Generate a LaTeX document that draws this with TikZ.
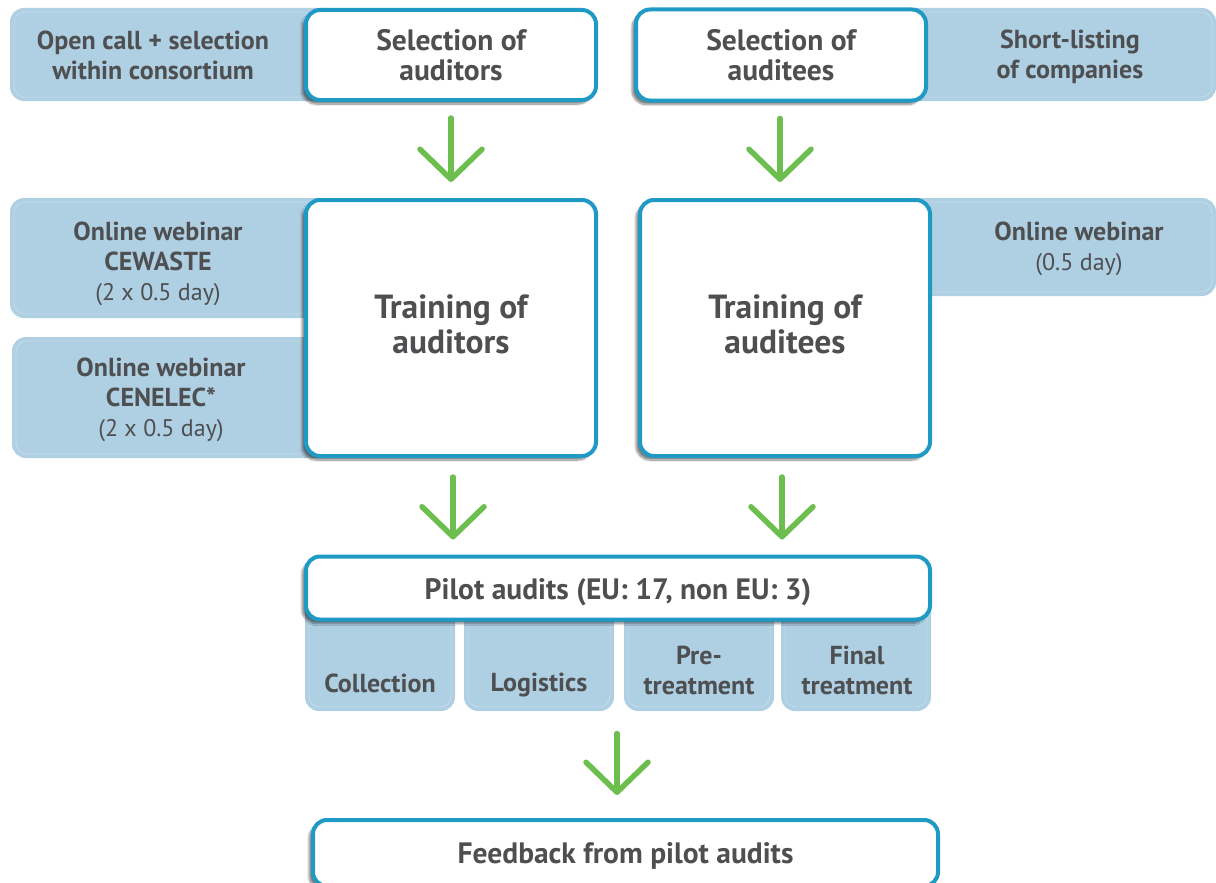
\documentclass[tikz,border=0pt]{standalone}
\usepackage{fontspec}
\setmainfont{PT Sans}
\usetikzlibrary{arrows.meta,shadows.blur}
\definecolor{lb}{HTML}{AFCFE3}
\definecolor{lbline}{HTML}{C3DCEB}
\definecolor{bd}{HTML}{1E9AC4}
\definecolor{tc}{HTML}{4E4F51}
\definecolor{gr}{HTML}{6CBE4F}
\tikzset{
  bluefill/.style={fill=lb, rounded corners=14pt},
  blueline/.style={draw=lbline, line width=0.8pt, rounded corners=11pt},
  whitebox/.style={draw=bd, line width=4pt, fill=white, rounded corners=14pt,
    blur shadow={shadow xshift=-4pt, shadow yshift=-4pt, shadow blur steps=10, shadow opacity=50},
    text=tc, align=center, inner sep=0pt},
  bluetext/.style={text=tc, align=center, inner sep=0pt},
  flow/.style={draw=gr, line width=5.5pt, line cap=round,
    -{Straight Barb[length=30pt, width=62pt, round]}},
  bigtxt/.style={font=\fontsize{33.5}{35}\selectfont\bfseries},
  midtxt/.style={font=\fontsize{29.5}{30}\selectfont\bfseries},
  smtxt/.style={font=\fontsize{26}{30}\selectfont\bfseries},
  boxlabel/.style={text=tc, align=center, inner sep=0pt},
}
\newcommand\regtxt[1]{{\fontsize{24}{30}\selectfont\mdseries #1}}
\newcommand\bluebg[4]{%
  \path[bluefill] (#1,#2) rectangle (#3,#4);
  \draw[blueline] (#1+4,#2+4) rectangle (#3-4,#4-4);}
\begin{document}
\begin{tikzpicture}[x=1pt,y=-1pt]
\useasboundingbox (0,0) rectangle (1216,883);
% blue backgrounds
\bluebg{10}{8}{340}{101}
\bluebg{900}{8}{1216}{101}
\bluebg{10}{198}{340}{318}
\bluebg{12}{337}{340}{458}
\bluebg{910}{198}{1216}{296}
\bluebg{305}{590}{455}{711}
\bluebg{464}{590}{614}{711}
\bluebg{624}{590}{774}{711}
\bluebg{781}{590}{931}{711}
% blue texts
\node[bluetext, smtxt] (t1) at (153,55) {Open call + selection\\within consortium};
\node[bluetext, smtxt] (t2) at (1070,57) {Short-listing\\of companies};
\node[bluetext, smtxt] (t3) at (158,264) {Online webinar\\CEWASTE\\\regtxt{(2 x 0.5 day)}};
\node[bluetext, smtxt] (t4) at (161,400) {Online webinar\\CENELEC*\\\regtxt{(2 x 0.5 day)}};
\node[bluetext, smtxt] (t5) at (1079,249) {Online webinar\\\regtxt{(0.5 day)}};
\node[bluetext, smtxt] (c1) at (380,683) {Collection};
\node[bluetext, smtxt] (c2) at (539,685) {Logistics};
\node[bluetext, smtxt] (c3) at (699,670) {Pre-\\treatment};
\node[bluetext, smtxt] (c4) at (857,670) {Final\\treatment};
% white boxes
\node[whitebox, midtxt, minimum width=290pt, minimum height=90pt] (selA) at (451,55) {Selection of\\auditors};
\node[whitebox, midtxt, minimum width=290pt, minimum height=91pt] (selB) at (781,55) {Selection of\\auditees};
\node[whitebox, minimum width=290pt, minimum height=256pt,
  label={[boxlabel, bigtxt, yshift=3.5pt]center:Training of\\auditors}] (trA) at (451,328) {};
\node[whitebox, minimum width=290pt, minimum height=256pt,
  label={[boxlabel, bigtxt, yshift=3.5pt]center:Training of\\auditees}] (trB) at (785,328) {};
\node[whitebox, minimum width=624pt, minimum height=63pt,
  label={[boxlabel, midtxt, yshift=-4pt]center:Pilot audits (EU: 17, non EU: 3)}] (pilot) at (618,588) {};
\node[whitebox, minimum width=625pt, minimum height=66pt,
  label={[boxlabel, midtxt, yshift=-3pt]center:Feedback from pilot audits}] (fb) at (625.5,853) {};
% arrows
\draw[flow, shorten <=16pt, shorten >=16pt] (selA.south) -- (trA.north);
\draw[flow, shorten <=16pt, shorten >=16pt] ([xshift=-1pt]selB.south) -- ([xshift=-1pt]selB.south |- trB.north);
\draw[flow, shorten <=19pt, shorten >=15pt] ([xshift=2pt]trA.south) -- ([xshift=2pt]trA.south |- pilot.north);
\draw[flow, shorten <=19pt, shorten >=15pt] ([xshift=-3pt]trB.south) -- ([xshift=-3pt]trB.south |- pilot.north);
\draw[flow, shorten <=112pt, shorten >=23pt] ([xshift=-1pt]pilot.south) -- ([xshift=-1pt]pilot.south |- fb.north);
\end{tikzpicture}
\end{document}
